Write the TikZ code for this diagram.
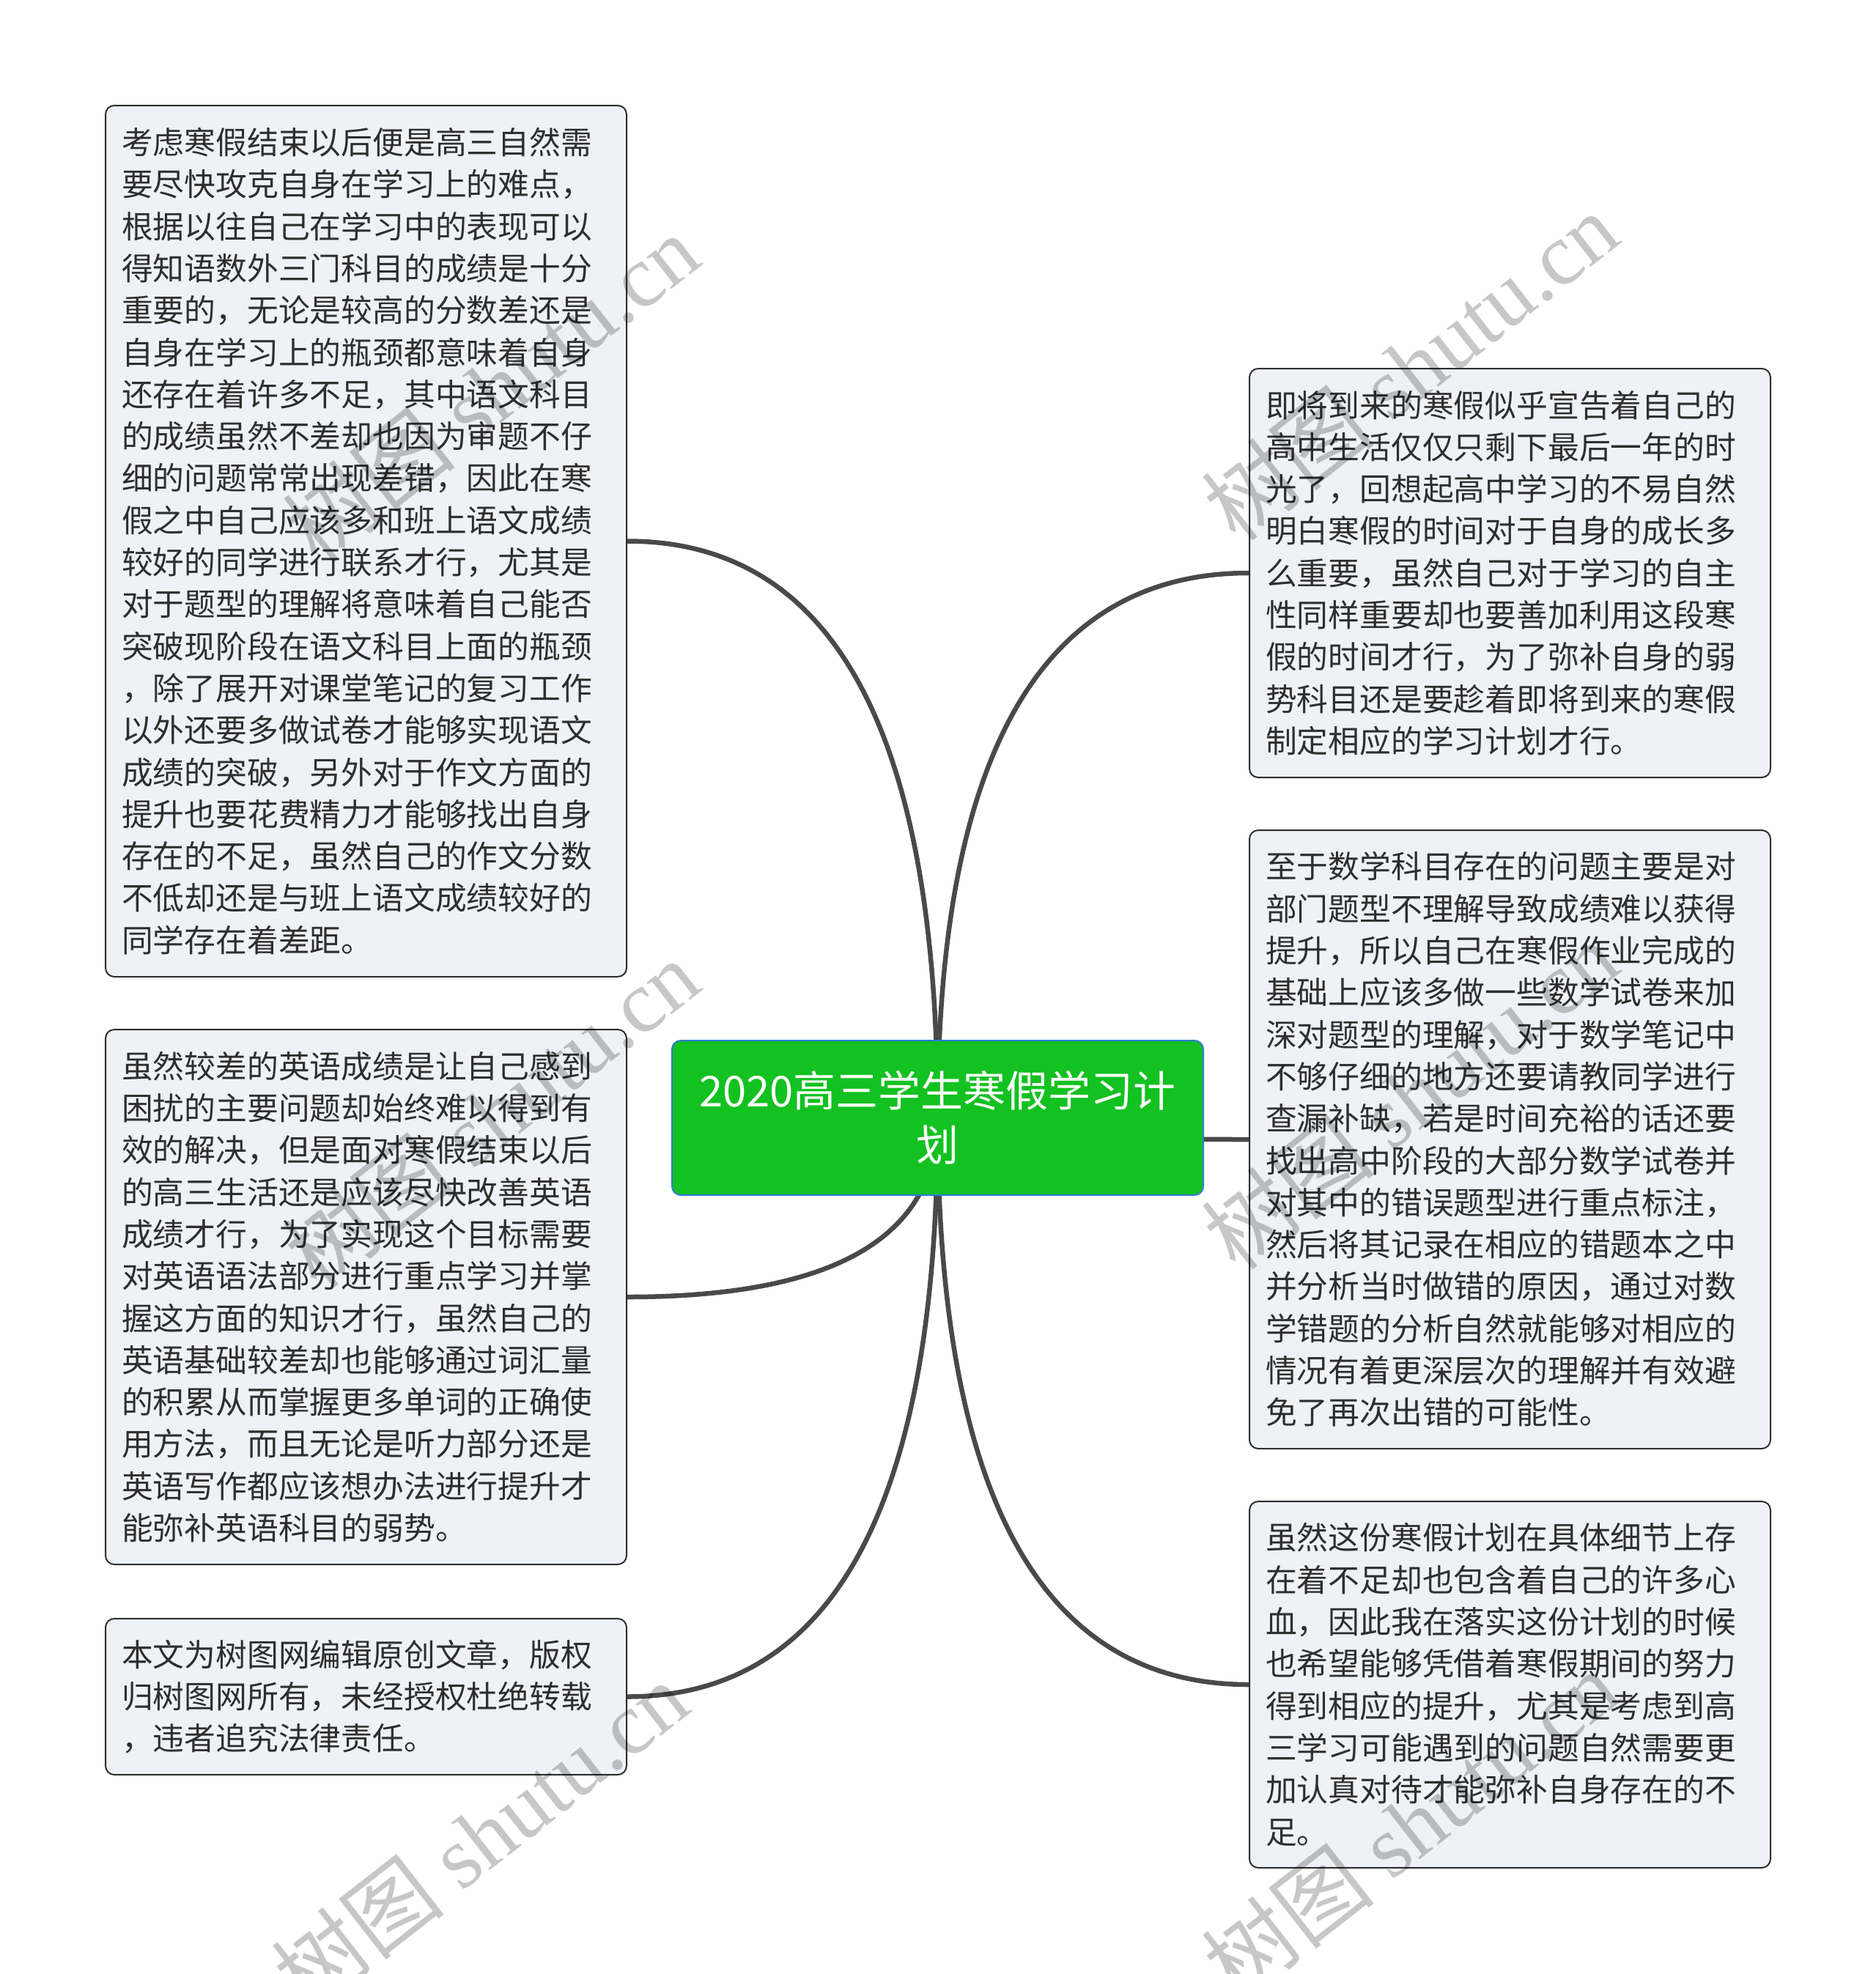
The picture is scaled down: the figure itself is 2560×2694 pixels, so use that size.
\documentclass[tikz,border=0pt]{standalone}
\usepackage{fontspec}
\setmainfont{Noto Sans CJK SC}
\newfontfamily\wmfont{Liberation Serif}
\usetikzlibrary{backgrounds,calc}
\definecolor{leafbg}{HTML}{EEF1F5}
\definecolor{leafline}{HTML}{2E2E2E}
\definecolor{topicbg}{HTML}{13C121}
\definecolor{topicline}{HTML}{2F7BD6}
\definecolor{linkgray}{HTML}{474A47}
\tikzset{
  leaf/.style={draw=leafline, line width=1pt, fill=leafbg, rounded corners=6pt,
    anchor=north west, text width=333.5pt, inner xsep=11pt, align=left,
    text=black!82, font=\fontsize{21.4}{28.65}\selectfont},
  topic/.style={draw=topicline, line width=1pt, fill=topicbg, rounded corners=6pt,
    minimum width=362.5pt, minimum height=105.5pt, text width=340pt, align=center,
    text=white, font=\fontsize{29}{37}\selectfont},
  link/.style={draw=linkgray, line width=3.25pt},
  wm/.style={rotate=38, text=black, text opacity=0.22, font=\fontsize{60}{60}\selectfont}
}
\begin{document}
\begin{tikzpicture}[x=0.5pt,y=-0.5pt]
  \useasboundingbox (0,0) rectangle (2560,2694);
  % centre topic
  \node[topic] (title) at (1279.5,1525.5) {2020高三学生寒假学习计\\划};
  % left side
  \node[leaf, minimum height=594.5pt] (b1) at (143,143) {考虑寒假结束以后便是高三自然需\\要尽快攻克自身在学习上的难点，\\根据以往自己在学习中的表现可以\\得知语数外三门科目的成绩是十分\\重要的，无论是较高的分数差还是\\自身在学习上的瓶颈都意味着自身\\还存在着许多不足，其中语文科目\\的成绩虽然不差却也因为审题不仔\\细的问题常常出现差错，因此在寒\\假之中自己应该多和班上语文成绩\\较好的同学进行联系才行，尤其是\\对于题型的理解将意味着自己能否\\突破现阶段在语文科目上面的瓶颈\\，除了展开对课堂笔记的复习工作\\以外还要多做试卷才能够实现语文\\成绩的突破，另外对于作文方面的\\提升也要花费精力才能够找出自身\\存在的不足，虽然自己的作文分数\\不低却还是与班上语文成绩较好的\\同学存在着差距。};
  \node[leaf, minimum height=365pt] (b2) at (143,1404) {虽然较差的英语成绩是让自己感到\\困扰的主要问题却始终难以得到有\\效的解决，但是面对寒假结束以后\\的高三生活还是应该尽快改善英语\\成绩才行，为了实现这个目标需要\\对英语语法部分进行重点学习并掌\\握这方面的知识才行，虽然自己的\\英语基础较差却也能够通过词汇量\\的积累从而掌握更多单词的正确使\\用方法，而且无论是听力部分还是\\英语写作都应该想办法进行提升才\\能弥补英语科目的弱势。};
  \node[leaf, minimum height=106.5pt] (b3) at (143,2208) {本文为树图网编辑原创文章，版权\\归树图网所有，未经授权杜绝转载\\，违者追究法律责任。};
  % right side
  \node[leaf, minimum height=279pt] (c1) at (1704,502) {即将到来的寒假似乎宣告着自己的\\高中生活仅仅只剩下最后一年的时\\光了，回想起高中学习的不易自然\\明白寒假的时间对于自身的成长多\\么重要，虽然自己对于学习的自主\\性同样重要却也要善加利用这段寒\\假的时间才行，为了弥补自身的弱\\势科目还是要趁着即将到来的寒假\\制定相应的学习计划才行。};
  \node[leaf, minimum height=422pt] (c2) at (1704,1132) {至于数学科目存在的问题主要是对\\部门题型不理解导致成绩难以获得\\提升，所以自己在寒假作业完成的\\基础上应该多做一些数学试卷来加\\深对题型的理解，对于数学笔记中\\不够仔细的地方还要请教同学进行\\查漏补缺，若是时间充裕的话还要\\找出高中阶段的大部分数学试卷并\\对其中的错误题型进行重点标注，\\然后将其记录在相应的错题本之中\\并分析当时做错的原因，通过对数\\学错题的分析自然就能够对相应的\\情况有着更深层次的理解并有效避\\免了再次出错的可能性。};
  \node[leaf, minimum height=250pt] (c3) at (1704,2048) {虽然这份寒假计划在具体细节上存\\在着不足却也包含着自己的许多心\\血，因此我在落实这份计划的时候\\也希望能够凭借着寒假期间的努力\\得到相应的提升，尤其是考虑到高\\三学习可能遇到的问题自然需要更\\加认真对待才能弥补自身存在的不\\足。};
  % connectors
  \begin{scope}[on background layer]
    \draw[link] (title.center) .. controls ($(title.center)!.667!(title.center |- b1.east)$) and ($(b1.east)!.667!(title.center |- b1.east)$) .. (b1.east);
    \draw[link] (title.center) .. controls ($(title.center)!.667!(title.center |- b2.east)$) and ($(b2.east)!.667!(title.center |- b2.east)$) .. (b2.east);
    \draw[link] (title.center) .. controls ($(title.center)!.667!(title.center |- b3.east)$) and ($(b3.east)!.667!(title.center |- b3.east)$) .. (b3.east);
    \draw[link] (title.center) .. controls ($(title.center)!.667!(title.center |- c1.west)$) and ($(c1.west)!.667!(title.center |- c1.west)$) .. (c1.west);
    \draw[link] (title.center) .. controls ($(title.center)!.667!(title.center |- c2.west)$) and ($(c2.west)!.667!(title.center |- c2.west)$) .. (c2.west);
    \draw[link] (title.center) .. controls ($(title.center)!.667!(title.center |- c3.west)$) and ($(c3.west)!.667!(title.center |- c3.west)$) .. (c3.west);
  \end{scope}
  % watermarks
  \node[wm] (w1) at (670,530) {树图 {\wmfont shutu.cn}};
  \node[wm] (w2) at (1924,500) {树图 {\wmfont shutu.cn}};
  \node[wm] (w3) at (670,1520) {树图 {\wmfont shutu.cn}};
  \node[wm] (w4) at (1924,1495) {树图 {\wmfont shutu.cn}};
  \node[wm] (w5) at (655,2505) {树图 {\wmfont shutu.cn}};
  \node[wm] (w6) at (1924,2490) {树图 {\wmfont shutu.cn}};
\end{tikzpicture}
\end{document}
